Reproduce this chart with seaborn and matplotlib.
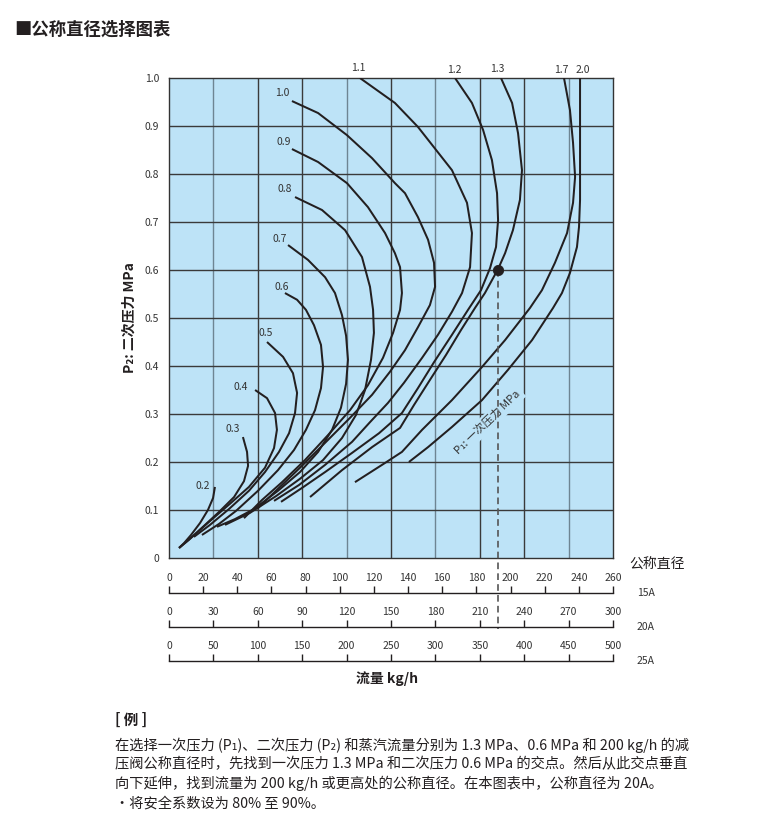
import numpy as np
import pandas as pd
import matplotlib
matplotlib.use("Agg")
import matplotlib.pyplot as plt
import seaborn as sns

# Curves of constant P1 (MPa): flow (kg/h, read on the 15A scale) vs P2 (MPa)
flow_0_2 = [26.9, 25.8, 22.8, 18.2, 12.9, 8.8, 5.9]
p2_0_2 = [0.148, 0.125, 0.100, 0.073, 0.048, 0.031, 0.021]

flow_0_3 = [43.3, 45.7, 46.3, 43.9, 38.1, 29.3, 19.3, 11.7, 5.9]
p2_0_3 = [0.252, 0.221, 0.192, 0.160, 0.127, 0.096, 0.063, 0.038, 0.021]

flow_0_4 = [50.4, 57.4, 62.1, 63.2, 61.5, 56.2, 46.8, 35.7, 24.0, 13.5, 5.9]
p2_0_4 = [0.350, 0.333, 0.302, 0.267, 0.229, 0.188, 0.148, 0.113, 0.077, 0.044, 0.021]

flow_0_5 = [57.4, 66.8, 72.6, 75.0, 73.8, 70.3, 64.4, 56.2, 46.8, 35.1, 24.0, 14.6]
p2_0_5 = [0.450, 0.419, 0.385, 0.344, 0.302, 0.260, 0.221, 0.179, 0.140, 0.102, 0.069, 0.044]

flow_0_6 = [67.9, 75.0, 80.2, 84.9, 89.0, 90.2, 89.0, 85.5, 80.2, 73.2, 63.8, 52.1, 39.2, 29.3, 19.3]
p2_0_6 = [0.552, 0.538, 0.517, 0.485, 0.444, 0.398, 0.354, 0.308, 0.267, 0.225, 0.183, 0.140, 0.098, 0.071, 0.048]

flow_0_7 = [69.7, 81.4, 91.4, 97.2, 101.3, 103.7, 104.8, 103.7, 100.7, 95.5, 87.3, 76.7, 63.8, 49.8, 38.6, 28.1]
p2_0_7 = [0.652, 0.621, 0.585, 0.552, 0.506, 0.463, 0.413, 0.363, 0.313, 0.267, 0.221, 0.179, 0.140, 0.102, 0.081, 0.065]

flow_0_8 = [73.8, 89.6, 103.1, 113.0, 117.7, 119.5, 120.0, 118.3, 114.8, 109.5, 101.3, 90.2, 76.7, 62.7, 47.4, 32.8]
p2_0_8 = [0.752, 0.725, 0.683, 0.627, 0.565, 0.517, 0.469, 0.413, 0.350, 0.298, 0.250, 0.204, 0.165, 0.129, 0.094, 0.069]

flow_0_9 = [72.0, 87.3, 104.2, 116.5, 126.5, 132.3, 135.3, 136.4, 135.3, 131.2, 125.3, 116.5, 106.0, 93.1, 79.6, 66.2, 54.5, 43.9]
p2_0_9 = [0.852, 0.825, 0.781, 0.731, 0.677, 0.635, 0.606, 0.552, 0.517, 0.469, 0.417, 0.360, 0.308, 0.256, 0.204, 0.158, 0.121, 0.083]

flow_1_0 = [72.0, 87.3, 104.2, 118.9, 132.3, 138.2, 145.8, 151.7, 155.2, 155.8, 152.8, 145.8, 138.2, 129.4, 118.9, 106.0, 91.4, 76.7, 63.2, 51.5]
p2_1_0 = [0.952, 0.927, 0.881, 0.833, 0.781, 0.760, 0.710, 0.663, 0.615, 0.565, 0.527, 0.481, 0.433, 0.388, 0.340, 0.292, 0.240, 0.188, 0.142, 0.102]

flow_1_1 = [111.8, 132.3, 145.8, 165.7, 174.5, 177.4, 176.3, 171.6, 165.7, 157.5, 148.2, 137.6, 128.2, 117.7, 107.2, 91.4, 76.1, 61.5]
p2_1_1 = [1.000, 0.948, 0.898, 0.808, 0.740, 0.677, 0.606, 0.552, 0.513, 0.465, 0.417, 0.365, 0.323, 0.283, 0.242, 0.194, 0.152, 0.119]

flow_1_2 = [167.5, 177.4, 183.9, 189.1, 192.1, 192.7, 191.5, 188.0, 182.7, 175.1, 165.7, 155.2, 145.8, 136.4, 123.0, 107.2, 91.4, 77.9, 65.6]
p2_1_2 = [1.000, 0.948, 0.892, 0.829, 0.760, 0.704, 0.648, 0.604, 0.558, 0.517, 0.465, 0.408, 0.354, 0.302, 0.260, 0.219, 0.179, 0.146, 0.117]

flow_1_3 = [194.4, 200.9, 204.4, 206.7, 205.5, 201.4, 196.8, 192.7, 185.0, 179.2, 171.0, 162.2, 152.8, 143.5, 135.3, 118.9, 101.3, 82.6]
p2_1_3 = [1.000, 0.948, 0.885, 0.808, 0.746, 0.683, 0.635, 0.602, 0.552, 0.521, 0.475, 0.423, 0.371, 0.319, 0.271, 0.231, 0.183, 0.127]

flow_1_7 = [231.3, 234.8, 236.6, 237.8, 236.6, 233.1, 226.0, 218.4, 211.4, 196.8, 183.3, 165.7, 148.2, 136.4, 126.5, 108.9]
p2_1_7 = [1.000, 0.933, 0.865, 0.794, 0.740, 0.677, 0.615, 0.558, 0.521, 0.454, 0.398, 0.329, 0.267, 0.221, 0.198, 0.158]

flow_2_0 = [240.7, 240.7, 240.7, 240.1, 238.9, 234.8, 230.1, 224.9, 212.6, 198.5, 183.3, 165.7, 151.7, 140.5]
p2_2_0 = [1.000, 0.850, 0.746, 0.690, 0.648, 0.594, 0.552, 0.521, 0.454, 0.392, 0.329, 0.273, 0.231, 0.200]

p1_labels = ["0.2", "0.3", "0.4", "0.5", "0.6", "0.7", "0.8", "0.9", "1.0", "1.1", "1.2", "1.3", "1.7", "2.0"]
flows = [flow_0_2, flow_0_3, flow_0_4, flow_0_5, flow_0_6, flow_0_7, flow_0_8,
         flow_0_9, flow_1_0, flow_1_1, flow_1_2, flow_1_3, flow_1_7, flow_2_0]
p2s = [p2_0_2, p2_0_3, p2_0_4, p2_0_5, p2_0_6, p2_0_7, p2_0_8,
       p2_0_9, p2_1_0, p2_1_1, p2_1_2, p2_1_3, p2_1_7, p2_2_0]
# label offsets from the start of each curve (pixels)
label_offsets = [(-12, 1), (-10, 8), (-14, 3), (-1, 9), (-3, 6), (-8, 6), (-10, 8),
                 (-8, 7), (-10, 8), (-2, 10), (-1, 8), (-4, 9), (-3, 8), (3, 8)]

# worked example: P1 = 1.3, P2 = 0.6
example_flow = 192.7
example_p2 = 0.6

# nominal diameter scales
scale_15a = list(range(0, 261, 20))
scale_20a = list(range(0, 301, 30))
scale_25a = list(range(0, 501, 50))

y_ticks = [0, 0.1, 0.2, 0.3, 0.4, 0.5, 0.6, 0.7, 0.8, 0.9, 1.0]
y_tick_labels = ["0", "0.1", "0.2", "0.3", "0.4", "0.5", "0.6", "0.7", "0.8", "0.9", "1.0"]

rows = []
for lab, fl, pp in zip(p1_labels, flows, p2s):
    for i, (f, p) in enumerate(zip(fl, pp)):
        rows.append({"p1": lab, "order": i, "flow": f, "p2": p})
df = pd.DataFrame(rows)

sns.set_theme(style="white")
plt.rcParams["font.family"] = ["Noto Sans CJK SC", "DejaVu Sans"]

ink = "#231f20"
grey = "#3a3a3a"
bg = "#bde3f7"

W, H = 765, 824
fig = plt.figure(figsize=(W / 100, H / 100), dpi=100)
fig.patch.set_facecolor("white")

ax = fig.add_axes([169 / W, (H - 558) / H, 444 / W, 480 / H])
ax.set_facecolor(bg)
ax.set_xlim(0, 260)
ax.set_ylim(0, 1.0)

# grid: 10 columns, 10 rows
grid_x = np.linspace(0, 260, 11)[1:-1]
light_cols = [0, 3, 5, 8]
for k, gx in enumerate(grid_x):
    ax.axvline(gx, color="#6e8593" if k in light_cols else grey, lw=1.0, zorder=1)
for gy in y_ticks[1:-1]:
    ax.axhline(gy, color=grey, lw=1.0, zorder=1)

for s in ax.spines.values():
    s.set_color("#333333")
    s.set_linewidth(1.0)

ax.set_xticks([])
ax.set_yticks(y_ticks)
ax.set_yticklabels(y_tick_labels)
ax.tick_params(axis="y", length=0, pad=7, labelsize=7.5, labelcolor="#333333")

sns.lineplot(data=df, x="flow", y="p2", units="p1", estimator=None, sort=False,
             color=ink, lw=1.45, ax=ax, legend=False, zorder=3,
             solid_joinstyle="round", solid_capstyle="butt")
ax.set_xlabel("")
ax.set_ylabel("")

for lab, fl, pp, off in zip(p1_labels, flows, p2s, label_offsets):
    ax.annotate(lab, xy=(fl[0], pp[0]), xytext=off, textcoords="offset pixels",
                ha="center", va="center", fontsize=7.5, color="#333333",
                annotation_clip=False)

# dashed drop line from the example point down to the 20A scale
y20 = 627
y_disp = fig.transFigure.transform((0, (H - y20 - 2) / H))[1]
y_bottom = ax.transData.inverted().transform((0, y_disp))[1]
ax.plot([example_flow, example_flow], [example_p2, y_bottom], color="#555555",
        lw=1.2, ls=(0, (4, 2.5)), clip_on=False, zorder=4)
sns.scatterplot(x=[example_flow], y=[example_p2], s=55, color=ink, edgecolor=ink,
                ax=ax, zorder=6, legend=False)
ax.set_xlabel("")
ax.set_ylabel("")

ax.text(186.5, 0.283, "P\u2081: 一次压力 MPa", rotation=44, rotation_mode="anchor",
        ha="center", va="center", fontsize=8, color="#333333", zorder=3.5,
        bbox=dict(facecolor=bg, edgecolor="none", pad=2))

# flow scales for each nominal diameter
def flow_scale(y_px, ticks, name):
    sa = fig.add_axes([169 / W, (H - y_px) / H, 444 / W, 0.0001])
    sa.set_xlim(ticks[0], ticks[-1])
    sa.set_ylim(0, 1)
    sa.set_xticks(ticks)
    sa.set_xticklabels([str(t) for t in ticks])
    sa.set_yticks([])
    sa.patch.set_visible(False)
    for side in ["left", "right", "bottom"]:
        sa.spines[side].set_visible(False)
    sa.spines["top"].set_color(ink)
    sa.spines["top"].set_linewidth(1.0)
    sa.tick_params(axis="x", top=True, bottom=False, labeltop=True, labelbottom=False,
                   direction="out", length=5, width=1, color=ink,
                   labelsize=7.5, labelcolor="#333333", pad=2)
    fig.text(637 / W, (H - y_px) / H, name, ha="left", va="center",
             fontsize=7.5, color="#333333")

flow_scale(593, scale_15a, "15A")
flow_scale(627, scale_20a, "20A")
flow_scale(661, scale_25a, "25A")

fig.text(657 / W, (H - 565) / H, "公称直径", ha="center", va="center",
         fontsize=10, color=ink)
fig.text(387 / W, (H - 679) / H, "流量 kg/h", ha="center", va="center",
         fontsize=10, fontweight="bold", color=ink)
fig.text(130 / W, (H - 318) / H, "P\u2082: 二次压力 MPa", ha="center", va="center",
         rotation=90, fontsize=10, fontweight="bold", color=ink)

fig.text(14 / W, (H - 30) / H, "■公称直径选择图表", ha="left", va="center",
         fontsize=12.5, fontweight="bold", color=ink)

fig.text(115 / W, (H - 720) / H, "[ 例 ]", ha="left", va="center",
         fontsize=10.5, fontweight="bold", color=ink)
body = [
    "在选择一次压力 (P\u2081)、二次压力 (P\u2082) 和蒸汽流量分别为 1.3 MPa、0.6 MPa 和 200 kg/h 的减",
    "压阀公称直径时，先找到一次压力 1.3 MPa 和二次压力 0.6 MPa 的交点。然后从此交点垂直",
    "向下延伸，找到流量为 200 kg/h 或更高处的公称直径。在本图表中，公称直径为 20A。",
    "・将安全系数设为 80% 至 90%。",
]
for i, line in enumerate(body):
    fig.text(115 / W, (H - 745 - 19.4 * i) / H, line, ha="left", va="center",
             fontsize=10.25, color=ink)

fig.savefig("out.png", dpi=100)
